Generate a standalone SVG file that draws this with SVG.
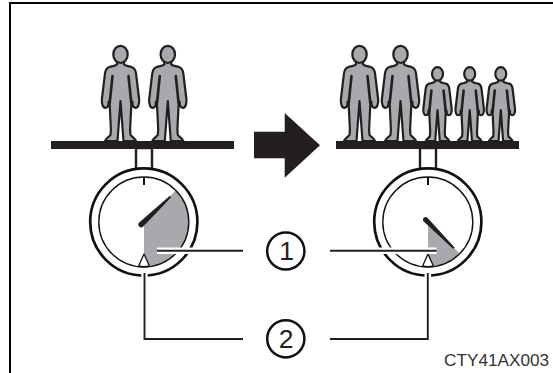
<svg xmlns="http://www.w3.org/2000/svg" width="553" height="373" viewBox="0 0 553 373">
<style>
.ink{fill:#231f20}
.body{fill:#a7a9ac;stroke:#231f20;stroke-width:2.2;stroke-linejoin:round;vector-effect:non-scaling-stroke}
.arm{fill:none;stroke:#231f20;stroke-width:2.6;stroke-linecap:round;vector-effect:non-scaling-stroke}
.ring{fill:#fff;stroke:#111;stroke-width:2.7}
.dial{fill:none;stroke:#111;stroke-width:1.4}
.sector{fill:#a7a9ac}
.halo{fill:none;stroke:#fff;stroke-width:6.5}
.lead{fill:none;stroke:#231f20;stroke-width:1.9}
.tri{fill:#fff;stroke:#111;stroke-width:1.3;stroke-linejoin:round}
.stem{fill:#fff;stroke:#231f20;stroke-width:2.4}
.tick{stroke:#111;stroke-width:2}
.badge{fill:#fff;stroke:#111;stroke-width:2.5}
.num{font-family:"Liberation Sans",Arial,sans-serif;font-size:26.5px;fill:#231f20;text-anchor:middle}
.code{font-family:"Liberation Sans",Arial,sans-serif;font-size:17.2px;fill:#333}
</style>
<defs>
<g id="person">
<path class="body" d="M-3.5,-79 L-3.5,-76.5 C-5,-75 -8,-74.8 -11,-74 C-14,-73 -15.2,-71 -15.6,-67 L-18.6,-42 C-19.2,-37 -17.5,-33.2 -15,-33.2 C-12.5,-33.2 -11.7,-36 -12,-39 L-11,-40 L-9.6,-12 L-10,-6 C-11,-4.5 -14,-3.5 -15.5,0 L-3,0 L0,-40 L3,0 L15.5,0 C14,-3.5 11,-4.5 10,-6 L9.6,-12 L11,-40 L12,-39 C11.7,-36 12.5,-33.2 15,-33.2 C17.5,-33.2 19.2,-37 18.6,-42 L15.6,-67 C15.2,-71 14,-73 11,-74 C8,-74.8 5,-75 3.5,-76.5 L3.5,-79 Z"/>
<path class="arm" d="M-8,-65 L-10.8,-38 M8,-65 L10.8,-38"/>
<ellipse class="body" cx="0" cy="-86.6" rx="7.2" ry="8.6"/>
</g>
</defs>
<g id="frame"><path d="M10,373 V3 H553" fill="none" stroke="#000" stroke-width="2"/></g>

<g id="gauge-left">
<rect class="stem" x="136" y="148" width="16" height="21"/>
<circle class="ring" cx="143.8" cy="222" r="53.6"/>
<path class="sector" d="M144,222 L175.8,190.2 A45,45 0 0 1 144,267 Z"/>
<circle class="dial" cx="143.8" cy="222" r="45"/>
<line class="tick" x1="144" y1="177" x2="144" y2="185"/>
<path class="ink" d="M139.2,222.6 L169.6,196 L171.2,197.2 L143.2,226.6 A2.8,2.8 0 0 1 139.2,222.6 Z"/>
<path class="tri" d="M144,254 L138.6,266 Q144,267.2 149.4,266 Z"/>
</g>
<g id="gauge-right">
<rect class="stem" x="420" y="148" width="16" height="21"/>
<circle class="ring" cx="427.8" cy="222" r="53.6"/>
<path class="sector" d="M428,222 L459.8,253.8 A45,45 0 0 1 428,267 Z"/>
<circle class="dial" cx="427.8" cy="222" r="45"/>
<line class="tick" x1="428" y1="177" x2="428" y2="185"/>
<path class="ink" d="M423.2,221 A2.8,2.8 0 0 1 427.2,217.4 L454.6,247.6 L453.2,249 Z"/>
<path class="tri" d="M428,254 L422.6,266 Q428,267.2 433.4,266 Z"/>
</g>

<g id="connectors">
<path class="halo" d="M157,250.7 H243"/>
<path class="halo" d="M436.7,250.7 H330"/>
<path class="halo" d="M144.5,270 V281"/>
<path class="halo" d="M427.8,270 V281"/>
<path class="lead" d="M157,250.7 H243"/>
<path class="lead" d="M436.7,250.7 H330"/>
<path class="lead" d="M144.5,273 V339 H243"/>
<path class="lead" d="M427.8,273 V339 H330"/>
</g>

<g id="people-before">
<use id="p1" href="#person" transform="translate(120.5,141)"/>
<use id="p2" href="#person" transform="translate(167.8,141)"/>
</g>
<g id="people-after">
<use id="p3" href="#person" transform="translate(359.5,141)"/>
<use id="p4" href="#person" transform="translate(400.5,141)"/>
<use id="p5" href="#person" transform="translate(437.5,141) scale(.76,.775)"/>
<use id="p6" href="#person" transform="translate(469.7,141) scale(.76,.775)"/>
<use id="p7" href="#person" transform="translate(500.8,141) scale(.76,.775)"/>
</g>
<g id="platform-left"><rect class="ink" x="51" y="141" width="183" height="8"/></g>
<g id="platform-right"><rect class="ink" x="336" y="141" width="183" height="8"/></g>
<g id="arrow"><path class="ink" d="M254,131.7 H284.7 V113 L320,145.3 L284.7,177.7 V158.3 H254 Z"/></g>

<g id="badge-1"><circle class="badge" cx="285.8" cy="251" r="18.6"/><text class="num" x="286.5" y="260.3">1</text></g>
<g id="badge-2"><circle class="badge" cx="285.8" cy="338.8" r="18.6"/><text class="num" x="286" y="348.2">2</text></g>
<text class="code" x="444" y="366">CTY41AX003</text>
</svg>
